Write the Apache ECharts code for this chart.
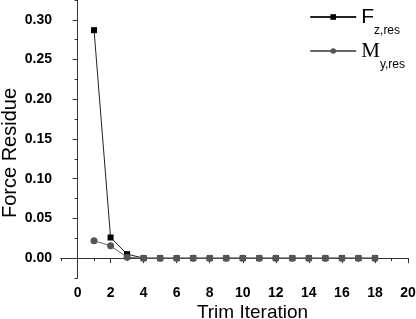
<!DOCTYPE html>
<html><head><meta charset="utf-8">
<script src="https://cdn.jsdelivr.net/npm/echarts@6/dist/echarts.min.js"></script>
<style>html,body{margin:0;padding:0;background:#fff}#c{width:416px;height:319px}</style>
</head><body><div id="c"></div>
<script>
const iterations = [1,2,3,4,5,6,7,8,9,10,11,12,13,14,15,16,17,18];
const fzRes = [0.287,0.026,0.005,0,0,0,0,0,0,0,0,0,0,0,0,0,0,0];
const myRes = [0.022,0.0155,0.001,0,0,0,0,0,0,0,0,0,0,0,0,0,0,0];
const xMajorTicks = [0,2,4,6,8,10,12,14,16,18,20];
const xMinorTicks = [-1,1,3,5,7,9,11,13,15,17,19];
const yMajorTicks = [0,0.05,0.10,0.15,0.20,0.25,0.30];
const yMinorTicks = [-0.025,0.025,0.075,0.125,0.175,0.225,0.275,0.325];

const FONT = 'Arial, "Liberation Sans", sans-serif';
const axisColor = '#333';
const chart = echarts.init(document.getElementById('c'), null, {renderer:'canvas'});

function xAx(ticks, len, showLabels, name){
  return {
    type:'value', min:-1, max:20, position:'bottom',
    axisLine:{show:true,lineStyle:{color:axisColor,width:1}},
    axisTick:{show:true,inside:false,length:len,customValues:ticks,lineStyle:{color:axisColor}},
    axisLabel:{show:showLabels,customValues:ticks,margin:8,fontFamily:FONT,fontWeight:'bold',fontSize:14,color:'#000'},
    splitLine:{show:false},
    name:name||'', nameLocation:'middle', nameGap:25, nameMoveOverlap:false,
    nameTextStyle:{fontFamily:FONT,fontSize:19,color:'#000',padding:[0,0,0,36]}
  };
}
function yAx(ticks, len, showLabels, name){
  return {
    type:'value', min:-0.025, max:0.325, position:'left',
    axisLine:{show:true,lineStyle:{color:axisColor,width:1}},
    axisTick:{show:true,inside:false,length:len,customValues:ticks,lineStyle:{color:axisColor}},
    axisLabel:{show:showLabels,customValues:ticks,margin:9,fontFamily:FONT,fontWeight:'bold',fontSize:14,color:'#000',
      formatter:v=>v.toFixed(2)},
    splitLine:{show:false},
    name:name||'', nameLocation:'middle', nameGap:41, nameMoveOverlap:false,
    nameTextStyle:{fontFamily:FONT,fontSize:20,color:'#000',padding:[0,28,0,0]}
  };
}

chart.setOption({
  animation:false,
  backgroundColor:'#fff',
  grid:{left:61,right:8,top:0,bottom:41,containLabel:false,outerBoundsMode:'none'},
  xAxis:[xAx(xMajorTicks,5,true,'Trim Iteration'), xAx(xMinorTicks,3,false)],
  yAxis:[yAx(yMajorTicks,5,true,'Force Residue'), yAx(yMinorTicks,3,false)],
  legend:{
    right:6, top:2, orient:'vertical', itemWidth:46, itemHeight:7, itemGap:4,
    data:[{name:'Fz'},{name:'My'}],
    formatter:function(n){
      return n==='Fz' ? '{a|F}{s|z,res}' : '{m|M}{s|y,res}';
    },
    textStyle:{
      rich:{
        a:{fontFamily:FONT,fontSize:21,color:'#000',lineHeight:22,verticalAlign:'bottom'},
        m:{fontFamily:'"Liberation Serif","Times New Roman",serif',fontSize:21,color:'#000',lineHeight:22,verticalAlign:'bottom'},
        s:{fontFamily:FONT,fontSize:12,color:'#000',lineHeight:22,verticalAlign:'bottom',padding:[0,0,-9,0]}
      }
    }
  },
  series:[
    {name:'Fz',type:'line',xAxisIndex:0,yAxisIndex:0,data:iterations.map((x,i)=>[x,fzRes[i]]),
      symbol:'rect',symbolSize:6,showSymbol:true,
      lineStyle:{color:'#222',width:1},itemStyle:{color:'#000'},z:2},
    {name:'My',type:'line',xAxisIndex:0,yAxisIndex:0,data:iterations.map((x,i)=>[x,myRes[i]]),
      symbol:'circle',symbolSize:7,showSymbol:true,
      lineStyle:{color:'#666',width:1},itemStyle:{color:'#555'},z:3}
  ]
});
</script></body></html>
